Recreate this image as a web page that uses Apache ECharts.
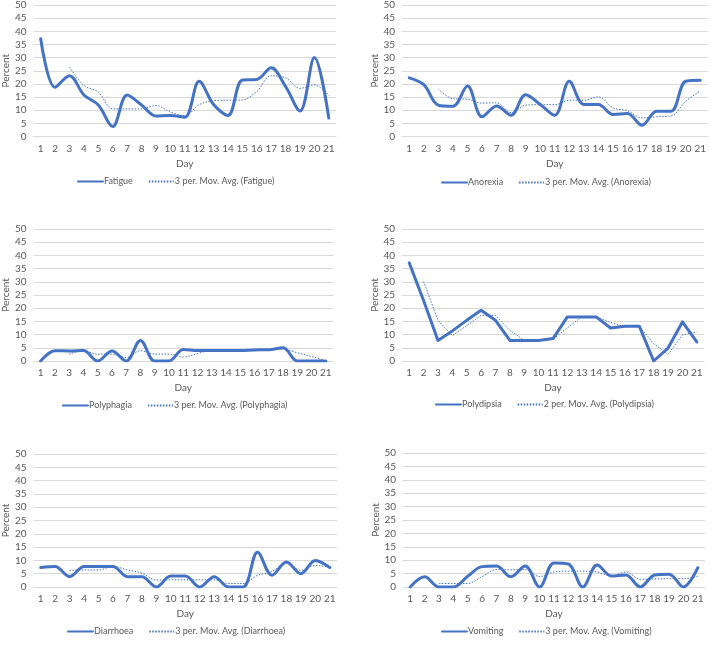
<!DOCTYPE html>
<html>
<head>
<meta charset="utf-8">
<script src="https://cdn.jsdelivr.net/npm/echarts@6/dist/echarts.min.js"></script>
<style>
  html, body { margin: 0; padding: 0; background: #fff; }
  #chart { width: 709px; height: 648px; }
</style>
</head>
<body>
<div id="chart"></div>
<script>
const days = ['1', '2', '3', '4', '5', '6', '7', '8', '9', '10', '11', '12', '13', '14', '15', '16', '17', '18', '19', '20', '21']
const yTicks = [0, 5, 10, 15, 20, 25, 30, 35, 40, 45, 50]

const fatigue = [37.2, 18.7, 23.1, 15.8, 12.0, 3.8, 15.8, 12.0, 7.8, 8.0, 7.3, 21.0, 12.2, 8.0, 21.5, 21.7, 26.1, 19.0, 9.7, 30.0, 7.0]
const fatigueAvg = ['-', '-', 26.4, 19.4, 16.9, 10.5, 10.5, 10.5, 11.8, 9.3, 7.9, 12.1, 13.6, 13.8, 13.9, 17.1, 23.1, 22.3, 18.3, 19.6, 15.6]

const anorexia = [22.3, 19.7, 11.9, 11.5, 19.2, 7.5, 11.6, 8.1, 15.9, 12.2, 8.1, 21.0, 12.2, 12.2, 8.4, 8.7, 4.3, 9.6, 9.6, 21.0, 21.4]
const anorexiaAvg = ['-', '-', 18.0, 14.4, 14.2, 12.7, 12.8, 9.1, 11.9, 12.1, 12.1, 13.8, 13.8, 15.1, 10.9, 9.8, 7.1, 7.5, 7.8, 13.4, 17.3]

const polyphagia = [0, 3.9, 3.8, 4.0, 0, 3.8, 0, 7.8, 0, 0, 4.4, 4.0, 4.0, 4.0, 4.0, 4.2, 4.3, 5.0, 0, 0, 0]
const polyphagiaAvg = ['-', '-', 2.6, 3.9, 2.6, 2.6, 1.3, 3.9, 2.6, 2.6, 1.5, 2.8, 4.1, 4.0, 4.0, 4.1, 4.2, 4.5, 3.1, 1.7, 0]

const polydipsia = [37.2, 22.9, 7.8, 11.4, 15.4, 19.2, 15.4, 7.8, 7.8, 7.8, 8.5, 16.7, 16.7, 16.7, 12.5, 13.2, 13.2, 0, 4.9, 14.8, 7.2]
const polydipsiaAvg = ['-', 30.1, 15.4, 9.6, 13.4, 17.3, 17.3, 11.6, 7.8, 7.8, 8.2, 12.6, 16.7, 16.7, 14.6, 12.9, 13.2, 6.6, 2.5, 9.9, 11.0]

const diarrhoea = [7.3, 7.7, 3.9, 7.7, 7.7, 7.7, 3.9, 3.9, 0, 4.1, 4.1, 0, 3.9, 0, 0, 13.1, 4.4, 9.4, 5.0, 10.0, 7.3]
const diarrhoeaAvg = ['-', '-', 6.3, 6.4, 6.4, 7.7, 6.4, 5.2, 2.6, 2.7, 2.7, 2.7, 2.7, 1.3, 1.3, 4.4, 5.8, 9.0, 6.3, 8.1, 7.4]

const vomiting = [0, 3.8, 0, 0, 4.0, 7.6, 7.8, 3.8, 7.8, 0, 9.0, 8.6, 0, 8.2, 4.1, 4.5, 0, 4.5, 4.8, 0, 7.2]
const vomitingAvg = ['-', '-', 1.3, 1.3, 1.3, 3.9, 6.5, 6.4, 6.5, 3.9, 5.6, 5.9, 5.9, 5.6, 4.1, 5.6, 2.9, 3.0, 3.1, 3.1, 4.0]

const blue = '#4472C4'
const textColor = '#595959'
const gridColor = '#d9d9d9'
const fontFamily = 'Lato, "Liberation Sans", sans-serif'

// one entry per small chart: grid box + legend box
const panels = [
  { name: 'Fatigue', avgName: '3 per. Mov. Avg. (Fatigue)', data: fatigue, avg: fatigueAvg, smooth: true,
    grid: { left: 30, top: 5, width: 306, height: 131.5 }, legend: { left: 72, top: 172 } },
  { name: 'Anorexia', avgName: '3 per. Mov. Avg. (Anorexia)', data: anorexia, avg: anorexiaAvg, smooth: true,
    grid: { left: 402, top: 5, width: 306, height: 131.5 }, legend: { left: 436, top: 173 } },
  { name: 'Polyphagia', avgName: '3 per. Mov. Avg. (Polyphagia)', data: polyphagia, avg: polyphagiaAvg, smooth: true,
    grid: { left: 31, top: 229, width: 302, height: 132 }, legend: { left: 57, top: 396 } },
  { name: 'Polydipsia', avgName: '2 per. Mov. Avg. (Polydipsia)', data: polydipsia, avg: polydipsiaAvg, smooth: false,
    grid: { left: 402, top: 229, width: 302, height: 132 }, legend: { left: 430, top: 395 } },
  { name: 'Diarrhoea', avgName: '3 per. Mov. Avg. (Diarrhoea)', data: diarrhoea, avg: diarrhoeaAvg, smooth: true,
    grid: { left: 33, top: 454, width: 304, height: 133 }, legend: { left: 62, top: 622 } },
  { name: 'Vomiting', avgName: '3 per. Mov. Avg. (Vomiting)', data: vomiting, avg: vomitingAvg, smooth: true,
    grid: { left: 403, top: 453, width: 302, height: 134 }, legend: { left: 436, top: 622 } }
]

const chart = echarts.init(document.getElementById('chart'), null, { renderer: 'canvas' })

const grid = panels.map(p => p.grid)

const xAxis = panels.map((p, i) => ({
  type: 'category',
  gridIndex: i,
  data: days,
  boundaryGap: true,
  name: 'Day',
  nameLocation: 'middle',
  nameGap: 22,
  nameTextStyle: { color: textColor, fontSize: 10, fontFamily },
  axisLine: { lineStyle: { color: gridColor, width: 1 } },
  axisTick: { show: false },
  axisLabel: { color: textColor, fontSize: 10, fontFamily, margin: 7, interval: 0 }
}))

const yAxis = panels.map((p, i) => ({
  type: 'value',
  gridIndex: i,
  min: yTicks[0],
  max: yTicks[yTicks.length - 1],
  interval: yTicks[1] - yTicks[0],
  name: 'Percent',
  nameLocation: 'middle',
  nameRotate: 90,
  nameGap: 20,
  nameTextStyle: { color: textColor, fontSize: 10, fontFamily },
  axisLine: { show: false },
  axisTick: { show: false },
  splitLine: { lineStyle: { color: gridColor, width: 1 } },
  axisLabel: { color: textColor, fontSize: 10, fontFamily, margin: 7 }
}))

const series = []
panels.forEach((p, i) => {
  series.push({
    type: 'line',
    name: p.name,
    xAxisIndex: i,
    yAxisIndex: i,
    data: p.data,
    smooth: p.smooth ? 0.35 : false,
    symbol: 'none',
    z: 3,
    lineStyle: { color: blue, width: 3, cap: 'round', join: 'round' },
    itemStyle: { color: blue }
  })
  series.push({
    type: 'line',
    name: p.avgName,
    xAxisIndex: i,
    yAxisIndex: i,
    data: p.avg,
    smooth: p.smooth ? 0.35 : false,
    symbol: 'none',
    z: 2,
    lineStyle: { color: blue, width: 1, type: [1.5, 1.5] },
    itemStyle: { color: blue }
  })
})

// legend: only the line, no circle marker (Excel style)
const legend = panels.map(p => ({
  left: p.legend.left,
  top: p.legend.top,
  orient: 'horizontal',
  itemWidth: 25,
  itemHeight: 8,
  itemGap: 15,
  selectedMode: false,
  itemStyle: { opacity: 0 },
  data: [p.name, p.avgName],
  textStyle: { color: textColor, fontSize: 9, fontFamily, padding: [0, 0, 0, -4] }
}))

chart.setOption({
  animation: false,
  grid,
  xAxis,
  yAxis,
  legend,
  series
})
</script>
</body>
</html>
